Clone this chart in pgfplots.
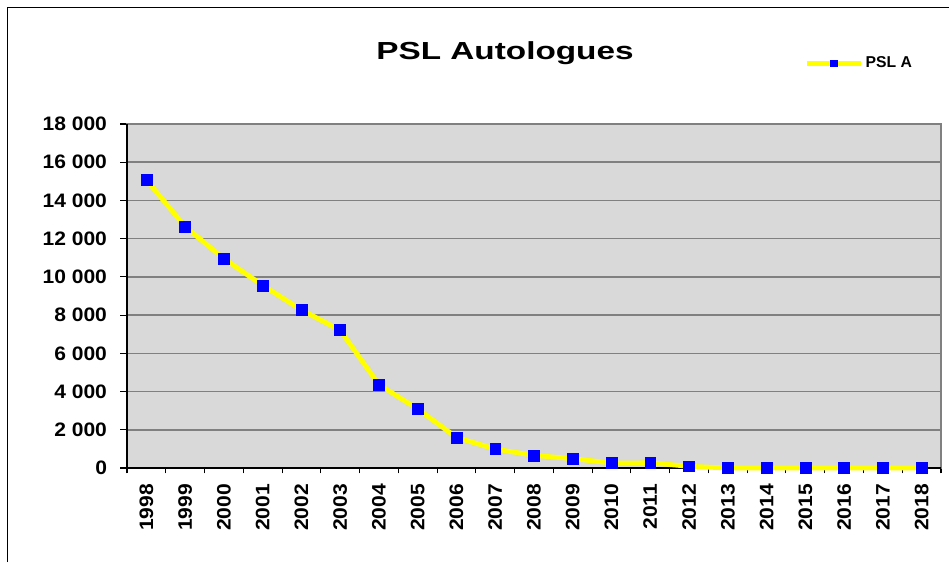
\documentclass[border=0pt]{standalone}
\usepackage{fontspec}
\setmainfont{Liberation Sans}
\newfontfamily\titlefont[FakeStretch=1.35]{Liberation Sans}
\newfontfamily\tickfont[FakeStretch=1.08]{Liberation Sans}
\usepackage{pgfplots}
\pgfplotsset{compat=1.18}
\definecolor{plotbg}{HTML}{D9D9D9}
\definecolor{gridgray}{HTML}{808080}
\definecolor{lineyellow}{HTML}{FFFF00}
\definecolor{markblue}{HTML}{0000FF}
\begin{document}
\begin{tikzpicture}
\path[use as bounding box] (0,0) rectangle (711.75pt,421.5pt);
\draw[line width=0.9pt] (5.5pt,0) -- (5.5pt,416pt) -- (711.75pt,416pt);
\begin{axis}[
  at={(95.25pt,70.5pt)}, anchor=south west,
  width=610.5pt, height=258pt, scale only axis,
  xmin=-0.5, xmax=20.5, ymin=0, ymax=18000,
  clip=false,
  axis background/.style={fill=plotbg},
  axis line style={draw=gridgray, line width=1.5pt},
  ytick={0,2000,...,18000},
  scaled y ticks=false,
  ymajorgrids, grid style={gridgray, line width=1.2pt},
  xtick={0,...,20},
  xticklabels={1998,1999,2000,2001,2002,2003,2004,2005,2006,2007,2008,2009,2010,2011,2012,2013,2014,2015,2016,2017,2018},
  major x tick style={draw=none},
  minor xtick={-0.5,0.5,...,20.5},
  tick pos=left,
  tick align=outside,
  major tick length=5pt, minor tick length=4pt,
  tick style={black, line width=0.8pt},
  /pgf/number format/.cd, fixed, 1000 sep={\ }, assume math mode=true,
  /pgfplots/.cd,
  tick label style={font=\tickfont\fontsize{14.6}{17}\selectfont\bfseries},
  xticklabel style={rotate=90, anchor=east},
  xticklabel shift=3.5pt,
  yticklabel shift=6.5pt,
  title={PSL Autologues},
  every axis title shift=0pt,
  title style={at={(0.4644,1.188)}, anchor=base, yshift=0pt, font=\titlefont\fontsize{18.5}{22}\selectfont\bfseries},
  legend style={at={(0.8317,1.177)}, anchor=west, draw=none, fill=none, inner sep=0pt,
    font=\fontsize{11.8}{13}\selectfont\bfseries},
  legend image code/.code={\draw[mark repeat=2,mark phase=2,mark size=2.4pt] plot coordinates {(0pt,0pt)(20.25pt,0pt)(40.5pt,0pt)};},
]
\draw[black, line width=1.5pt] (rel axis cs:0,1) -- (rel axis cs:0,0) -- (rel axis cs:1,0);
\addplot[lineyellow, line width=3.6pt, mark=square*, mark size=4.1pt,
  mark options={fill=markblue, draw=markblue, line width=0.4pt}]
  coordinates {
  (0,15080) (1,12630) (2,10950) (3,9560) (4,8270) (5,7210) (6,4360)
  (7,3090) (8,1600) (9,990) (10,660) (11,490) (12,260) (13,270)
  (14,90) (15,0) (16,0) (17,0) (18,0) (19,0) (20,0)
  };
\addlegendentry{PSL A}
\end{axis}
\end{tikzpicture}
\end{document}
